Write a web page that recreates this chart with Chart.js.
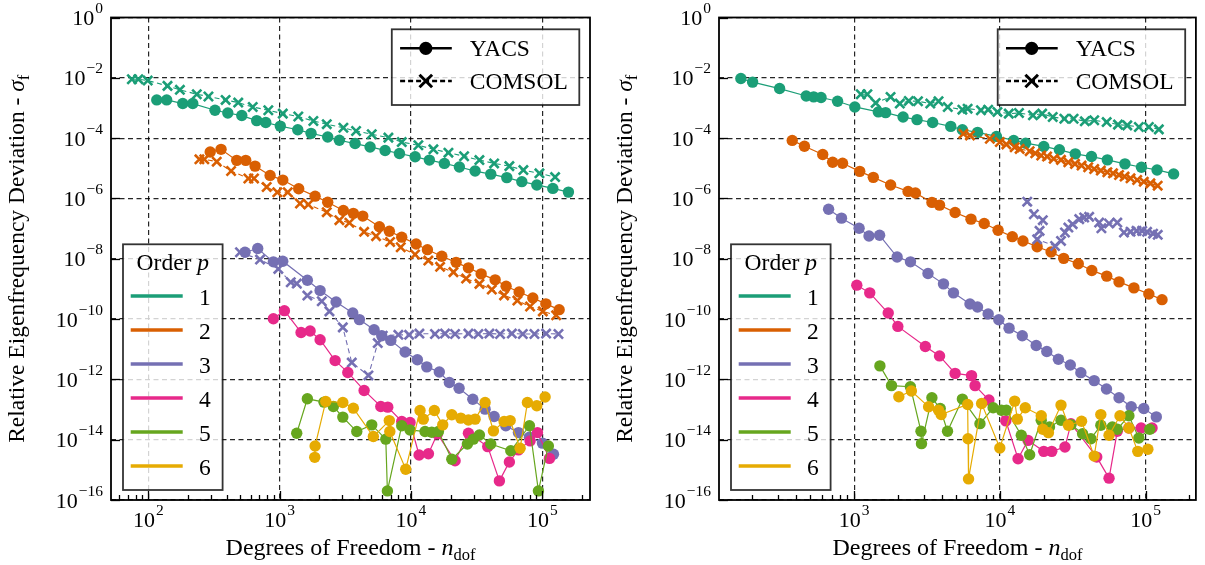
<!DOCTYPE html>
<html>
<head>
<meta charset="utf-8">
<script src="https://cdn.jsdelivr.net/npm/chart.js@4.4.1/dist/chart.umd.min.js"></script>
<style>
  body { margin: 0; background: #fff; width: 1205px; height: 565px; overflow: hidden; position: relative; }
  #left { position: absolute; left: 0; top: 0; }
  #right { position: absolute; left: 600px; top: 0; }
</style>
</head>
<body>
<canvas id="left" width="600" height="565"></canvas>
<canvas id="right" width="605" height="565"></canvas>
<script>
// ---- left panel ----
const lP1YacsDof = [116,138,183,218,322,403,515,669,784,1012,1374,1734,2323,2849,3753,4883,6356,8170,10760,13810,17960,23370,30780,40520,53660,69820,90830,120200,158100];
const lP1YacsErr = [1.85e-3,1.85e-3,1.40e-3,1.40e-3,8.4e-4,6.8e-4,5.6e-4,3.8e-4,3.3e-4,2.5e-4,1.9e-4,1.44e-4,1.09e-4,8.5e-5,6.6e-5,5.1e-5,3.9e-5,3.1e-5,2.4e-5,1.87e-5,1.45e-5,1.10e-5,8.1e-6,6.4e-6,4.9e-6,3.6e-6,2.8e-6,2.15e-6,1.62e-6];
const lP1ComsolDof = [75,84,99,140,174,234,287,388,484,624,820,1057,1387,1806,2285,3057,3819,5027,6730,8510,11380,14820,19280,25370,33180,42960,56120,71740,95060,125100];
const lP1ComsolErr = [8.98e-3,9.0e-3,8.1e-3,5.4e-3,4.0e-3,2.85e-3,2.4e-3,1.85e-3,1.51e-3,1.08e-3,8.4e-4,6.5e-4,5.2e-4,3.7e-4,2.9e-4,2.2e-4,1.72e-4,1.34e-4,1.04e-4,7.4e-5,5.8e-5,4.25e-5,3.3e-5,2.5e-5,1.87e-5,1.45e-5,1.18e-5,8.7e-6,6.8e-6,5.1e-6];

const lP2YacsDof = [296,358,471,552,650,846,1057,1397,1862,2323,3055,3640,4295,5745,6845,8505,10940,13340,17170,22060,27380,34210,43740,53000,66580,84660,106400,134300];
const lP2YacsErr = [3.45e-5,4.25e-5,1.83e-5,1.83e-5,1.18e-5,5.8e-6,4.06e-6,2.1e-6,1.19e-6,7.5e-7,4.0e-7,3.2e-7,2.6e-7,1.15e-7,8.2e-8,5.2e-8,3.1e-8,2.0e-8,1.21e-8,7.6e-9,5.0e-9,3.15e-9,2.0e-9,1.22e-9,7.9e-10,5.0e-10,3.2e-10,2.05e-10];
const lP2ComsolDof = [245,267,332,427,578,638,797,960,1153,1429,1654,2285,2850,3397,4397,5423,6932,8359,10740,13560,16660,21050,26300,33200,41250,51170,64600,80700,100900,127400];
const lP2ComsolErr = [1.98e-5,1.98e-5,1.66e-5,8.1e-6,4.6e-6,4.6e-6,2.4e-6,1.6e-6,1.6e-6,6.8e-7,6.3e-7,3.5e-7,1.9e-7,1.56e-7,7.8e-8,5.6e-8,3.6e-8,2.4e-8,1.38e-8,8.7e-9,5.4e-9,3.6e-9,2.2e-9,1.47e-9,9.5e-10,6.1e-10,4.1e-10,2.6e-10,1.8e-10,1.33e-10];

const lP3YacsDof = [545,681,896,1056,1626,2032,2691,3603,4049,5237,5993,7022,9022,11190,13190,16440,19600,23240,29560,36680,42960,52750,65800,79800,100200,121600];
const lP3YacsErr = [1.64e-8,2.18e-8,7.9e-9,8.3e-9,1.93e-9,8.8e-10,3.7e-10,1.6e-10,9.6e-11,4.4e-11,2.8e-11,1.96e-11,8.1e-12,4.5e-12,2.6e-12,1.75e-12,7.9e-13,5.1e-13,2.2e-13,1.03e-13,5.9e-14,2.9e-14,1.72e-14,1.21e-14,7.7e-15,3.3e-15];
const lP3ComsolDof = [499,709,977,1216,1350,1626,2094,2394,3027,3542,4742,5586,6098,8017,9680,11590,15230,18160,21660,27370,32610,39530,47700,58620,71020,87100,106900,132700];
const lP3ComsolErr = [1.64e-8,9.4e-9,4.6e-9,1.66e-9,1.5e-9,6.0e-10,3.9e-10,1.8e-10,5.3e-11,3.6e-12,1.35e-12,1.6e-11,2.8e-11,3.0e-11,3.0e-11,3.3e-11,3.2e-11,3.3e-11,3.2e-11,3.3e-11,3.2e-11,3.3e-11,3.2e-11,3.3e-11,3.2e-11,3.2e-11,3.3e-11,3.2e-11];

const lP4YacsDof = [896,1087,1456,1706,2033,2645,3305,4398,5892,6658,8507,9840,11530,13580,15890,21670,27370,38420,47120,56120,65800,80700,91800,113300];
const lP4YacsErr = [1.03e-10,1.9e-10,3.6e-11,4.0e-11,2.07e-11,4.2e-12,1.7e-12,4.3e-13,1.26e-13,1.2e-13,4.0e-14,3.7e-14,3.1e-15,3.4e-15,1.56e-14,2.0e-15,1.64e-14,5.9e-15,4.3e-16,1.83e-15,4.6e-15,9.1e-15,1.72e-14,2.4e-15];
const lP5YacsDof = [1349,1626,2178,2565,3027,3866,5026,6430,6613,8505,9840,12800,14390,16170,20460,26900,29870,33190,40500,57560,79800,93400,111200];
const lP5YacsErr = [1.64e-14,2.27e-13,1.76e-13,1.26e-13,5.6e-14,1.86e-14,3.1e-14,1.04e-14,2.0e-16,2.9e-14,2.1e-14,1.86e-14,1.77e-14,1.86e-14,2.25e-15,7.2e-15,1.04e-14,1.44e-14,7.2e-15,4.3e-15,2.9e-14,2.0e-16,6.2e-15];
const lP6YacsDof = [1850,1863,2245,3027,3640,5171,6840,6900,9120,11720,12410,15060,17450,20450,23950,27370,30780,36680,42430,51170,56880,67770,77030,90800,105000];
const lP6YacsErr = [2.6e-15,6.2e-15,1.85e-13,1.71e-13,1.11e-13,1.27e-14,4.3e-14,1.86e-14,1.05e-15,9.3e-14,4.8e-14,9.3e-14,3.1e-14,6.7e-14,5.2e-14,4.5e-14,4.8e-14,1.71e-13,1.96e-14,4.0e-14,4.3e-14,5.2e-15,1.71e-13,1.33e-13,2.6e-13];

// ---- right panel ----
const rP1YacsDof = [167,201,308,469,528,593,770,1011,1466,1645,2168,2703,3458,4605,5533,7036,9479,12450,15030,20030,25640,32960,42560,54710,72230,93770,120000,155900];
const rP1YacsErr = [9.5e-3,7.2e-3,4.4e-3,2.5e-3,2.33e-3,2.22e-3,1.67e-3,1.08e-3,7.4e-4,7.0e-4,5.0e-4,4.1e-4,3.3e-4,2.45e-4,1.9e-4,1.55e-4,1.14e-4,8.4e-5,6.8e-5,5.3e-5,4.1e-5,3.0e-5,2.45e-5,1.9e-5,1.4e-5,1.08e-5,8.8e-6,6.5e-6];
const rP1ComsolDof = [1111,1233,1406,1779,2059,2372,2744,3333,3796,4394,5533,6012,7419,8320,9630,11520,13540,16880,19520,23080,27730,32080,38330,44440,54130,64730,74940,90000,105400,123400];
const rP1ComsolErr = [2.86e-3,2.86e-3,1.47e-3,2.33e-3,1.4e-3,1.71e-3,1.67e-3,1.4e-3,1.67e-3,1.08e-3,8.8e-4,9.5e-4,8.4e-4,8.8e-4,7.4e-4,6.5e-4,6.8e-4,5.7e-4,6.5e-4,5.0e-4,4.4e-4,4.4e-4,3.6e-4,3.9e-4,3.4e-4,2.8e-4,2.65e-4,2.33e-4,2.33e-4,1.95e-4];

const rP2YacsDof = [376,456,609,712,833,1093,1354,1780,2346,2635,3420,3857,4933,6340,7813,9730,12180,14410,18040,22490,27440,34550,42790,54180,65810,83250,105400,129800];
const rP2YacsErr = [8.4e-5,5.4e-5,2.86e-5,1.58e-5,1.47e-5,7.9e-6,5.0e-6,2.8e-6,1.71e-6,1.51e-6,7.4e-7,6.0e-7,3.4e-7,2.06e-7,1.47e-7,8.8e-8,5.4e-8,3.9e-8,2.5e-8,1.67e-8,1.03e-8,6.8e-9,4.1e-9,2.65e-9,1.71e-9,1.08e-9,6.8e-10,4.4e-10];
const rP2ComsolDof = [5623,6237,8543,10000,11090,12650,13680,16020,17500,19240,21100,23440,26300,29530,32800,36400,40430,44440,49340,54710,59840,65810,71820,78910,87650,97290,108000,121200];
const rP2ComsolErr = [1.40e-4,1.23e-4,9.5e-5,7.4e-5,6.2e-5,5.0e-5,4.4e-5,3.7e-5,3.16e-5,2.65e-5,2.45e-5,2.06e-5,1.9e-5,1.58e-5,1.4e-5,1.23e-5,1.08e-5,9.5e-6,8.4e-6,7.4e-6,6.8e-6,6.0e-6,5.3e-6,4.65e-6,4.1e-6,3.6e-6,3.16e-6,2.65e-6];

const rP3YacsDof = [668,819,1082,1265,1496,1973,2437,3214,4106,4806,6237,7030,8318,9840,11570,14260,17770,21010,25230,30460,35990,44440,53960,65810,79760,97290,118600];
const rP3YacsErr = [4.4e-7,2.22e-7,1.03e-7,5.7e-8,6.0e-8,1.14e-8,7.9e-9,3.26e-9,1.47e-9,7.4e-10,3.16e-10,2.5e-10,1.47e-10,9.5e-11,5.0e-11,2.8e-11,1.33e-11,8.4e-12,4.65e-12,3.0e-12,1.67e-12,9.1e-13,4.8e-13,2.45e-13,1.23e-13,1.08e-13,5.7e-14];
const rP3ComsolDof = [15420,17130,19730,18740,18050,23940,26300,28000,29540,31620,35100,37940,41040,48060,49800,56200,64000,71100,78900,86700,94800,102500,112700,121300];
const rP3ComsolErr = [7.8e-7,3.0e-7,1.9e-7,8.4e-8,4.4e-8,2.65e-8,3.9e-8,7.4e-8,1.08e-7,1.4e-7,2.06e-7,2.33e-7,2.45e-7,1.58e-7,1.03e-7,1.47e-7,1.58e-7,7.4e-8,7.9e-8,8.4e-8,8.4e-8,7.8e-8,6.8e-8,6.2e-8];

const rP4YacsDof = [1043,1280,1714,1996,3082,3857,4933,6397,6763,8418,10990,13340,15600,20030,22730,28000,30770,46270,56200,64000,76900,93300,110900];
const rP4YacsErr = [1.33e-9,7.4e-10,1.58e-10,5.7e-11,1.23e-11,6.0e-12,1.58e-12,1.33e-12,6.2e-13,2.06e-13,4.2e-14,2.33e-15,9.5e-15,4.1e-15,4.1e-15,5.7e-15,3.4e-14,2.65e-15,5.3e-16,1.9e-14,2.45e-14,2.45e-14,2.45e-14];
const rP5YacsDof = [1503,1806,2433,2877,2900,3418,3900,4375,5533,7306,8996,10250,11100,14040,16020,19240,21930,26300,30770,36990,42170,49340,59200,64000,76900,90000,106900];
const rP5YacsErr = [2.8e-12,6.2e-13,5.7e-13,1.9e-14,7.4e-15,2.45e-13,1.08e-13,1.9e-14,2.22e-13,3.4e-14,1.14e-13,9.5e-14,9.5e-14,1.4e-14,3.16e-15,4.4e-14,2.65e-14,4.4e-14,3.16e-14,1.58e-14,1.08e-14,3.0e-14,2.65e-14,2.22e-14,6.2e-14,1.14e-14,2.22e-14];
const rP6YacsDof = [2027,2472,3245,3796,3958,6015,6050,6100,7502,10000,12650,13180,14950,19240,19730,21560,26300,29540,36400,44440,49340,56200,66800,76900,88500,103800];
const rP6YacsErr = [2.65e-13,4.1e-13,1.23e-13,9.5e-14,6.8e-14,1.47e-13,1.08e-14,5.0e-16,1.58e-13,5.3e-15,1.9e-13,4.8e-14,1.14e-13,6.2e-14,2.22e-14,1.71e-14,1.4e-13,3.0e-14,4.1e-14,2.86e-15,6.8e-14,1.4e-14,6.2e-14,2.45e-14,4.1e-15,4.8e-15];

const orders = ['1', '2', '3', '4', '5', '6'];
const solvers = ['YACS', 'COMSOL'];
const colors = ['#1b9e77', '#d95f02', '#7570b3', '#e7298a', '#66a61e', '#e6ab02'];

const SERIF = '"Liberation Serif", "Times New Roman", "DejaVu Serif", serif';

function pts(xs, ys) {
  return xs.map((x, i) => ({ x: x, y: ys[i] }));
}

function yacsSet(xs, ys, p) {
  return {
    data: pts(xs, ys), showLine: true, tension: 0,
    borderColor: colors[p], backgroundColor: colors[p], borderWidth: 1.2,
    pointStyle: 'circle', pointRadius: 5.7, pointHoverRadius: 5.7, pointBorderWidth: 0
  };
}

function comsolSet(xs, ys, p) {
  return {
    data: pts(xs, ys), showLine: true, tension: 0,
    borderColor: colors[p], backgroundColor: colors[p], borderWidth: 1.1, borderDash: [5, 3.5],
    pointStyle: 'crossRot', pointRadius: 6.5, pointHoverRadius: 6.5,
    pointBorderWidth: 2.6, pointBorderColor: colors[p]
  };
}

// "10" with a raised exponent
function pow10(ctx, x, base, e, align) {
  const sup = e < 0 ? '\u2212' + (-e) : String(e);
  ctx.font = '22px ' + SERIF;
  const w1 = ctx.measureText('10').width;
  ctx.font = '15.5px ' + SERIF;
  const w2 = ctx.measureText(sup).width;
  const w = w1 + w2 + 1;
  const x0 = align === 'center' ? x - w / 2 : x - w;
  ctx.fillStyle = '#000';
  ctx.textAlign = 'left';
  ctx.textBaseline = 'alphabetic';
  ctx.font = '22px ' + SERIF;
  ctx.fillText('10', x0, base);
  ctx.font = '15.5px ' + SERIF;
  ctx.fillText(sup, x0 + w1 + 1, base - 12);
}

// text made of pieces with their own font and vertical shift, centred on x
function richText(ctx, parts, x, base) {
  let w = 0;
  parts.forEach(p => { ctx.font = p.font; p.w = ctx.measureText(p.t).width; w += p.w; });
  let cx = x - w / 2;
  ctx.textAlign = 'left';
  ctx.textBaseline = 'alphabetic';
  ctx.fillStyle = '#000';
  parts.forEach(p => { ctx.font = p.font; ctx.fillText(p.t, cx, base + (p.dy || 0)); cx += p.w; });
}

function drawCircle(ctx, x, y, r) {
  ctx.beginPath(); ctx.arc(x, y, r, 0, Math.PI * 2); ctx.fill();
}

function drawCross(ctx, x, y, h) {
  ctx.beginPath();
  ctx.moveTo(x - h, y - h); ctx.lineTo(x + h, y + h);
  ctx.moveTo(x - h, y + h); ctx.lineTo(x + h, y - h);
  ctx.stroke();
}

const decorPlugin = {
  id: 'decor',
  afterDraw(chart) {
    const ctx = chart.ctx;
    const a = chart.chartArea;
    const xs = chart.scales.x, ys = chart.scales.y;
    ctx.save();

    // inward tick marks
    ctx.strokeStyle = '#000';
    ctx.lineWidth = 1.3;
    ctx.setLineDash([]);
    xs.ticks.forEach(t => {
      const px = Math.round(xs.getPixelForValue(t.value)) + 0.5;
      const len = t.major ? 9 : 5;
      ctx.beginPath(); ctx.moveTo(px, a.bottom); ctx.lineTo(px, a.bottom - len); ctx.stroke();
    });
    ys.ticks.forEach(t => {
      const py = Math.round(ys.getPixelForValue(t.value)) + 0.5;
      ctx.beginPath(); ctx.moveTo(a.left, py); ctx.lineTo(a.left + 9, py); ctx.stroke();
    });

    // frame
    ctx.lineWidth = 1.8;
    ctx.strokeRect(a.left, a.top, a.right - a.left, a.bottom - a.top);

    // tick labels
    xs.ticks.filter(t => t.major).forEach(t => {
      pow10(ctx, xs.getPixelForValue(t.value), a.bottom + 27, Math.round(Math.log10(t.value)), 'center');
    });
    ys.ticks.forEach(t => {
      pow10(ctx, a.left - 8, ys.getPixelForValue(t.value) + 7.5, Math.round(Math.log10(t.value)), 'right');
    });

    // axis titles
    richText(ctx, [
      { t: 'Degrees of Freedom - ', font: '24px ' + SERIF },
      { t: 'n', font: 'italic 24px ' + SERIF },
      { t: 'dof', font: '16.5px ' + SERIF, dy: 4.5 }
    ], (a.left + a.right) / 2, 555);

    ctx.save();
    ctx.translate(a.left - 87, (a.top + a.bottom) / 2);
    ctx.rotate(-Math.PI / 2);
    richText(ctx, [
      { t: 'Relative Eigenfrequency Deviation - ', font: '23.5px ' + SERIF },
      { t: '\u03c3', font: 'italic 23.5px ' + SERIF },
      { t: 'f', font: '16.5px ' + SERIF, dy: 4.5 }
    ], 0, 0);
    ctx.restore();

    // solver legend (top right)
    const bw = 187.5, bh = 75.7;
    const bx = a.right - 10.7 - bw, by = a.top + 11.8;
    ctx.fillStyle = 'rgba(255,255,255,0.8)';
    ctx.fillRect(bx, by, bw, bh);
    ctx.strokeStyle = 'rgba(0,0,0,0.8)';
    ctx.lineWidth = 1.8;
    ctx.strokeRect(bx, by, bw, bh);
    ctx.strokeStyle = '#000';
    ctx.fillStyle = '#000';
    let ly = by + 19;
    ctx.lineWidth = 2.6;
    ctx.beginPath(); ctx.moveTo(bx + 8.3, ly); ctx.lineTo(bx + 60, ly); ctx.stroke();
    drawCircle(ctx, bx + 34, ly, 6.6);
    ly = by + 51.7;
    ctx.setLineDash([5, 3]);
    ctx.beginPath(); ctx.moveTo(bx + 8.3, ly); ctx.lineTo(bx + 60, ly); ctx.stroke();
    ctx.setLineDash([]);
    ctx.lineWidth = 3;
    drawCross(ctx, bx + 34, ly, 6.3);
    ctx.font = '23.5px ' + SERIF;
    ctx.textAlign = 'left';
    ctx.textBaseline = 'alphabetic';
    ctx.fillText(solvers[0], bx + 78, by + 27);
    ctx.fillText(solvers[1], bx + 78, by + 59.7);

    // order legend (bottom left)
    const ow = 99.6, oh = 245.7;
    const ox = a.left + 12, oy = a.bottom - 10 - oh;
    ctx.fillStyle = 'rgba(255,255,255,0.8)';
    ctx.fillRect(ox, oy, ow, oh);
    ctx.strokeStyle = 'rgba(0,0,0,0.8)';
    ctx.lineWidth = 1.8;
    ctx.strokeRect(ox, oy, ow, oh);
    richText(ctx, [
      { t: 'Order ', font: '23.5px ' + SERIF },
      { t: 'p', font: 'italic 23.5px ' + SERIF }
    ], ox + ow / 2, oy + 26);
    orders.forEach((o, i) => {
      const yy = oy + 51.7 + 34 * i;
      ctx.strokeStyle = colors[i];
      ctx.lineWidth = 3.3;
      ctx.beginPath(); ctx.moveTo(ox + 7.7, yy); ctx.lineTo(ox + 59.7, yy); ctx.stroke();
      ctx.fillStyle = '#000';
      ctx.font = '23.5px ' + SERIF;
      ctx.textAlign = 'left';
      ctx.fillText(o, ox + 76, yy + 9);
    });

    ctx.restore();
  }
};

function xTicks(scale) {
  const ticks = [];
  for (let k = 1; k <= 6; k++) {
    for (let m = 1; m <= 9; m++) {
      const v = m * Math.pow(10, k);
      if (v >= scale.min && v <= scale.max) ticks.push({ value: v, major: m === 1 });
    }
  }
  scale.ticks = ticks;
}

function yTicks(scale) {
  const ticks = [];
  for (let e = 0; e >= -16; e -= 2) ticks.push({ value: Math.pow(10, e), major: true });
  scale.ticks = ticks;
}

function makePanel(id, xMin, xMax, plotLeft, padRight, datasets) {
  const gridColor = c => (c.tick && c.tick.major) ? 'rgba(0,0,0,0.85)' : 'rgba(0,0,0,0)';
  return new Chart(document.getElementById(id), {
    type: 'scatter',
    data: { datasets: datasets.slice().reverse() },
    options: {
      responsive: false,
      animation: false,
      events: [],
      layout: { padding: { top: 17.5, right: padRight, bottom: 0, left: 0 } },
      plugins: { legend: { display: false }, tooltip: { enabled: false } },
      scales: {
        x: {
          type: 'logarithmic', min: xMin, max: xMax,
          afterBuildTicks: xTicks,
          afterFit: s => { s.height = 65; },
          ticks: { display: false, autoSkip: false },
          grid: { color: gridColor, lineWidth: 1.2, drawTicks: false },
          border: { display: false, dash: [5, 3.5] }
        },
        y: {
          type: 'logarithmic', min: 1e-16, max: 1,
          afterBuildTicks: yTicks,
          afterFit: s => { s.width = plotLeft; },
          ticks: { display: false, autoSkip: false },
          grid: { color: gridColor, lineWidth: 1.2, drawTicks: false },
          border: { display: false, dash: [5, 3.5] }
        }
      }
    },
    plugins: [decorPlugin]
  });
}

makePanel('left', 52, 230700, 111, 10, [
  yacsSet(lP1YacsDof, lP1YacsErr, 0), comsolSet(lP1ComsolDof, lP1ComsolErr, 0),
  yacsSet(lP2YacsDof, lP2YacsErr, 1), comsolSet(lP2ComsolDof, lP2ComsolErr, 1),
  yacsSet(lP3YacsDof, lP3YacsErr, 2), comsolSet(lP3ComsolDof, lP3ComsolErr, 2),
  yacsSet(lP4YacsDof, lP4YacsErr, 3),
  yacsSet(lP5YacsDof, lP5YacsErr, 4),
  yacsSet(lP6YacsDof, lP6YacsErr, 5)
]);

makePanel('right', 118.2, 221700, 119, 6, [
  yacsSet(rP1YacsDof, rP1YacsErr, 0), comsolSet(rP1ComsolDof, rP1ComsolErr, 0),
  yacsSet(rP2YacsDof, rP2YacsErr, 1), comsolSet(rP2ComsolDof, rP2ComsolErr, 1),
  yacsSet(rP3YacsDof, rP3YacsErr, 2), comsolSet(rP3ComsolDof, rP3ComsolErr, 2),
  yacsSet(rP4YacsDof, rP4YacsErr, 3),
  yacsSet(rP5YacsDof, rP5YacsErr, 4),
  yacsSet(rP6YacsDof, rP6YacsErr, 5)
]);
</script>
</body>
</html>
